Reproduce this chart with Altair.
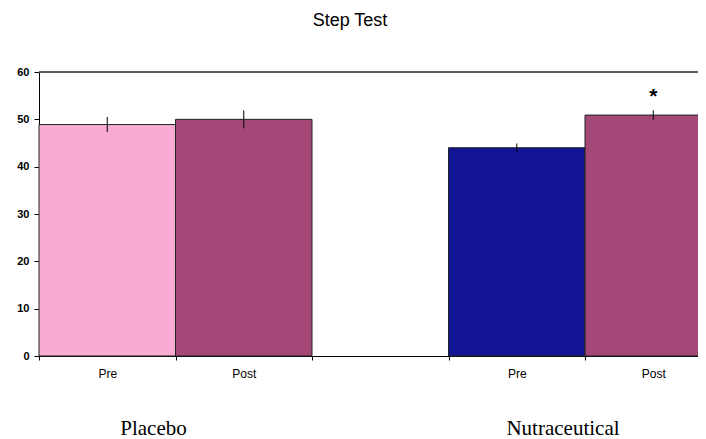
import altair as alt
import pandas as pd

# ---- data ----
groups = ["Placebo", "Placebo", "Nutraceutical", "Nutraceutical"]
phases = ["Pre", "Post", "Pre", "Post"]
means = [48.9, 50.0, 44.0, 50.9]
errors = [1.6, 1.9, 0.9, 1.0]
marks = ["", "", "", "*"]
y_ticks = [0, 10, 20, 30, 40, 50, 60]
title_text = "Step Test"

keys = [f"{g}-{p}" for g, p in zip(groups, phases)]
gap_key = "gap"
domain = keys[:2] + [gap_key] + keys[2:]
bar_colors = ["#F8ABD3", "#A44877", "#111594", "#A44877"]

df = pd.DataFrame({
    "key": keys,
    "group": groups,
    "phase": phases,
    "mean": means,
    "lo": [m - e for m, e in zip(means, errors)],
    "hi": [m + e for m, e in zip(means, errors)],
    "mark": marks,
})

W, H = 659, 284
SANS = "Liberation Sans"
SERIF = "Liberation Serif"

xscale = alt.Scale(domain=domain, range=[0, 682.5], paddingInner=0, paddingOuter=0)
yscale = alt.Scale(domain=[0, 60], nice=False)

base = alt.Chart(df)

bars = base.mark_bar(stroke="#222222", strokeWidth=1).encode(
    x=alt.X("key:N", scale=xscale, sort=domain, axis=alt.Axis(
        title=None, labelAngle=0, tickBand="extent", tickSize=4,
        labelExpr="split(datum.value,'-')[1] || ''",
        labelFont=SANS, labelFontSize=12, labelColor="black",
        labelPadding=8, domainColor="black", tickColor="black", grid=False)),
    y=alt.Y("mean:Q", scale=yscale, axis=alt.Axis(
        title=None, values=y_ticks, tickSize=5, labelFont=SANS,
        labelFontSize=11, labelFontWeight="bold", labelColor="black",
        labelPadding=5, domainColor="black", tickColor="black", grid=False)),
    color=alt.Color("key:N", scale=alt.Scale(domain=keys, range=bar_colors), legend=None),
)

err = base.mark_rule(color="black", strokeWidth=1).encode(
    x=alt.X("key:N", scale=xscale, sort=domain),
    y=alt.Y("lo:Q", scale=yscale),
    y2="hi:Q",
)

star = base.mark_text(font=SANS, fontSize=21, fontWeight="bold", color="black",
                      baseline="alphabetic", dy=-7).encode(
    x=alt.X("key:N", scale=xscale, sort=domain),
    y=alt.Y("hi:Q", scale=yscale),
    text="mark:N",
)

top_line = base.mark_rule(color="#555555", strokeWidth=1).encode(
    x=alt.value(0), x2=alt.value(W + 20), y=alt.value(0)
)

group_labels = base.transform_filter(alt.datum.phase == "Post").mark_text(
    font=SERIF, fontSize=21, color="black", baseline="middle", dx=-22
).encode(
    x=alt.X("key:N", scale=xscale, sort=domain, bandPosition=0),
    y=alt.value(H + 73),
    text="group:N",
)

title = alt.Chart(pd.DataFrame({"t": [title_text]})).mark_text(
    font=SANS, fontSize=18, color="black", baseline="alphabetic"
).encode(text="t:N", x=alt.value(311), y=alt.value(-46))

chart = alt.layer(bars, err, star, top_line, group_labels, title).properties(
    width=W, height=H,
    padding={"left": 31, "top": 64, "right": 0, "bottom": 83},
    autosize=alt.AutoSizeParams(type="none"),
).configure_view(stroke=None).configure(background="white")

chart.save("out.html", embed_options={"renderer": "svg", "actions": False})
